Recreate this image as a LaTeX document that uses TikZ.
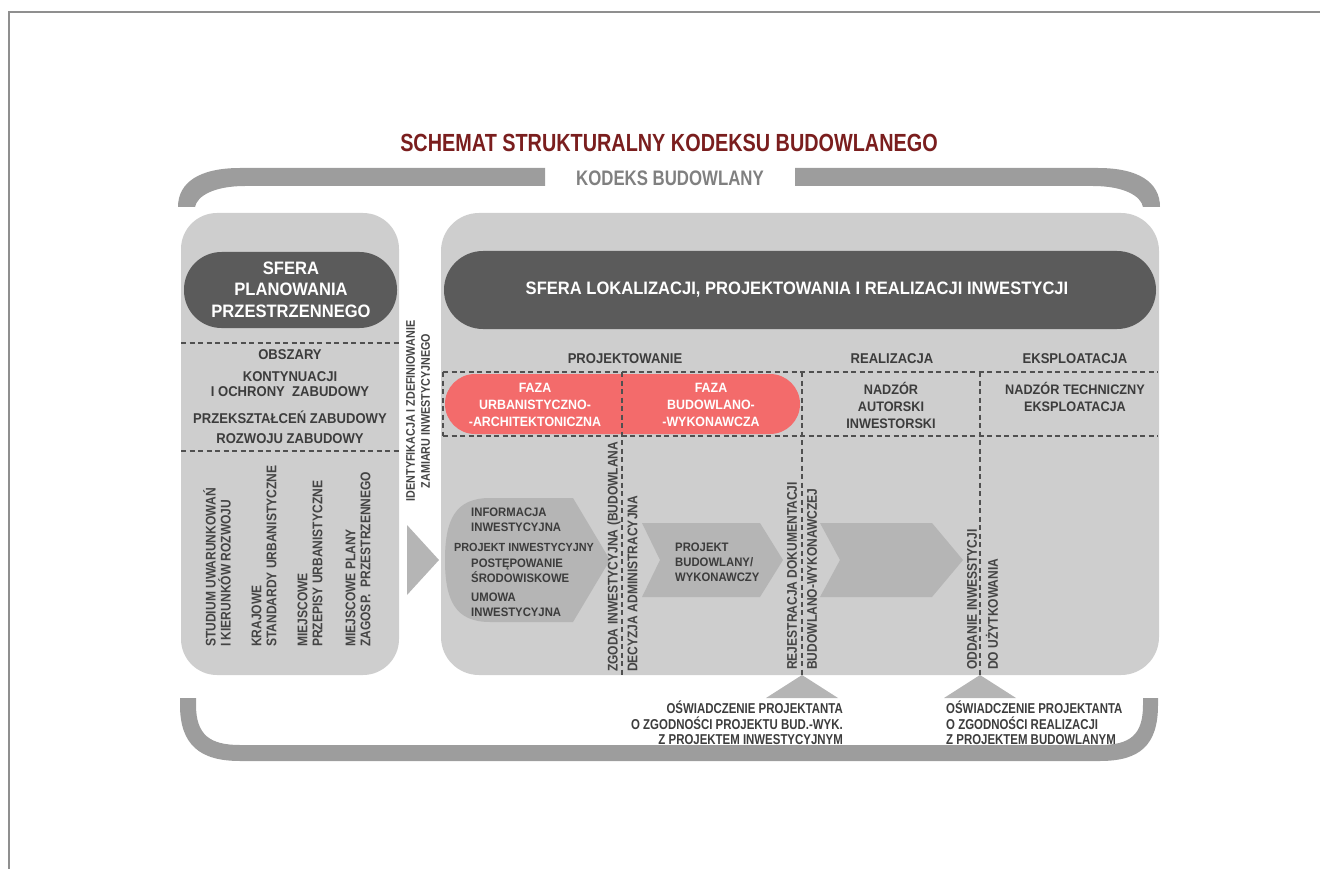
\documentclass[tikz,border=0pt]{standalone}
\usepackage{fontspec}
\setmainfont{Liberation Sans}
\newfontfamily\demi[FakeStretch=0.92]{Liberation Sans}
\newfontfamily\cond[FakeStretch=0.8]{Liberation Sans}
\newfontfamily\narrow[FakeStretch=0.86]{Liberation Sans}
\definecolor{titlered}{HTML}{7A1E1E}
\definecolor{brack}{HTML}{9D9D9D}
\definecolor{kodgray}{HTML}{808080}
\definecolor{panel}{HTML}{CECECE}
\definecolor{pilldark}{HTML}{5B5B5B}
\definecolor{pinkc}{HTML}{F36B6B}
\definecolor{chev}{HTML}{B5B5B5}
\definecolor{txt}{HTML}{3C3C3C}
\definecolor{vtxtc}{HTML}{444444}
\definecolor{dashc}{HTML}{505050}
\definecolor{framec}{HTML}{8F8F8F}
\begin{document}
\begin{tikzpicture}[x=1pt,y=-1pt,
  lbl/.style={font=\demi\bfseries\fontsize{14.2}{15}\selectfont, text=txt, align=center, inner sep=0pt},
  pinklbl/.style={font=\demi\bfseries\fontsize{13.5}{17}\selectfont, text=white, align=center, inner sep=0pt},
  pilltxt/.style={font=\demi\bfseries\fontsize{18}{21.5}\selectfont, text=white, align=center, inner sep=0pt},
  ctxt/.style={font=\demi\bfseries\fontsize{12.3}{15}\selectfont, text=txt, align=left, anchor=west, inner sep=0pt},
  vtxt/.style={font=\narrow\bfseries\fontsize{14}{15}\selectfont, text=vtxtc, rotate=90, anchor=west, align=left, inner sep=0pt},
  stmt/.style={font=\cond\bfseries\fontsize{14.3}{15.5}\selectfont, text=txt, inner sep=0pt},
  dsh/.style={draw=dashc, line width=1.2pt, dash pattern=on 5pt off 3.5pt},
  chevron/.style={fill=chev}]
\useasboundingbox (0,0) rectangle (1320,869);

% sheet frame
\draw[framec, line width=1.3pt] (9,869) -- (9,12) -- (1320,12);

% title
\node[font=\cond\bfseries\fontsize{24.8}{26}\selectfont, text=titlered, inner sep=0pt] (title) at (669,143) {SCHEMAT STRUKTURALNY KODEKSU BUDOWLANEGO};

% upper bracket: Kodeks budowlany
\fill[brack] (178,207) .. controls (178,182) and (200,168) .. (240,168) -- (545,168) -- (545,186) -- (245,186) .. controls (214,186) and (197,196) .. (195,207) -- cycle;
\fill[brack] (1160,207) .. controls (1160,182) and (1138,168) .. (1098,168) -- (795,168) -- (795,186) -- (1093,186) .. controls (1124,186) and (1141,196) .. (1143,207) -- cycle;
\node[font=\cond\bfseries\fontsize{21}{22}\selectfont, text=kodgray, inner sep=0pt] (kodeks) at (670,178) {KODEKS BUDOWLANY};

% lower bracket
\fill[brack] (180,698) -- (180,705) .. controls (180,745) and (200,761) .. (240,761) -- (1100,761) .. controls (1140,761) and (1158,745) .. (1158,705) -- (1158,698) -- (1143,698) -- (1143,705) .. controls (1143,735) and (1130,745) .. (1100,745) -- (240,745) .. controls (210,745) and (196,735) .. (196,705) -- (196,698) -- cycle;

% panels
\fill[panel, rounded corners=36pt] (181,213) rectangle (399,675);
\fill[panel, rounded corners=38pt] (441,213) rectangle (1159,675);

% dark headers
\fill[pilldark, rounded corners=37.5pt] (184,252) rectangle (397,328);
\fill[pilldark, rounded corners=39pt] (444,251) rectangle (1156,329);
\node[pilltxt] (sfp) at (291,289.5) {SFERA\\PLANOWANIA\\PRZESTRZENNEGO};
\node[pilltxt] (sfl) at (797,290) {SFERA LOKALIZACJI, PROJEKTOWANIA I REALIZACJI INWESTYCJI};

% left panel: areas
\draw[dsh] (181,343) -- (399,343);
\draw[dsh] (181,451) -- (399,451);
\node[lbl] (obs) at (290,355) {OBSZARY};
\node[lbl] (kont) at (290,384.5) {KONTYNUACJI\\I OCHRONY~~ZABUDOWY};
\node[lbl] (przek) at (290,417) {PRZEKSZTAŁCEŃ ZABUDOWY};
\node[lbl] (rozw) at (290,439) {ROZWOJU ZABUDOWY};

% left panel: planning documents
\node[vtxt] (stud) at (217,647) {STUDIUM UWARUNKOWAŃ\\I KIERUNKÓW ROZWOJU};
\node[vtxt] (kraj) at (264,647) {KRAJOWE\\STANDARDY URBANISTYCZNE};
\node[vtxt] (miejp) at (310,647) {MIEJSCOWE\\PRZEPISY URBANISTYCZNE};
\node[vtxt] (miejpl) at (358,647) {MIEJSCOWE PLANY\\ZAGOSP.~~PRZESTRZENNEGO};

% link between the spheres
\node[vtxt, anchor=center, align=center, font=\narrow\bfseries\fontsize{12.5}{15}\selectfont] (ident) at (418,411) {IDENTYFIKACJA I ZDEFINIOWANIE\\ZAMIARU INWESTYCYJNEGO};
\fill[chev] (407,525) -- (439,560) -- (407,595) -- cycle;

% stage headings
\node[lbl] (hproj) at (625,359) {PROJEKTOWANIE};
\node[lbl] (hreal) at (892,359) {REALIZACJA};
\node[lbl] (hekspl) at (1075,359) {EKSPLOATACJA};

% phases
\fill[pinkc, rounded corners=30pt] (445,374) rectangle (800,434);
\node[pinklbl] (fua) at (535,405) {FAZA\\URBANISTYCZNO-\\-ARCHITEKTONICZNA};
\node[pinklbl] (fbw) at (711,405) {FAZA\\BUDOWLANO-\\-WYKONAWCZA};
\node[lbl, font=\demi\bfseries\fontsize{13.8}{17}\selectfont] (nadz) at (891,405) {NADZÓR\\AUTORSKI\\INWESTORSKI};
\node[lbl, font=\demi\bfseries\fontsize{13.8}{17}\selectfont] (ntech) at (1075,397) {NADZÓR TECHNICZNY\\EKSPLOATACJA};

% dashed grid
\draw[dsh] (443,372) -- (1158,372);
\draw[dsh] (443,436) -- (1158,436);
\draw[dsh] (443,372) -- (443,436);
\draw[dsh] (622,372) -- (622,675);
\draw[dsh] (802,372) -- (802,675);
\draw[dsh] (980,372) -- (980,675);

% process chevrons
\fill[chevron] (573,498) -- (610,560) -- (573,622) -- (490,622) .. controls (455,622) and (445,600) .. (445,560) .. controls (445,520) and (455,498) .. (490,498) -- cycle;
\fill[chevron] (642,523) -- (760,523) -- (783,560) -- (760,597) -- (642,597) -- (660,560) -- cycle;
\fill[chevron] (820,523) -- (932,523) -- (963,560) -- (932,597) -- (820,597) -- (840,560) -- cycle;
\node[ctxt] (info) at (471,519.5) {INFORMACJA\\INWESTYCYJNA};
\node[ctxt, anchor=center, font=\demi\bfseries\fontsize{11.8}{15}\selectfont] (pinw) at (524,547) {PROJEKT INWESTYCYJNY};
\node[ctxt] (post) at (471,570.5) {POSTĘPOWANIE\\ŚRODOWISKOWE};
\node[ctxt] (umowa) at (471,604.5) {UMOWA\\INWESTYCYJNA};
\node[ctxt, font=\demi\bfseries\fontsize{12.3}{15}\selectfont] (pbw) at (675,562) {PROJEKT\\BUDOWLANY/\\WYKONAWCZY};

% milestones
\node[vtxt] (zgoda) at (614,672) {ZGODA INWESTYCYJNA (BUDOWLANA};
\node[vtxt] (decyz) at (632.5,672) {DECYZJA ADMINISTRACYJNA};
\node[vtxt] (rejes) at (792,670) {REJESTRACJA DOKUMENTACJI};
\node[vtxt] (budwyk) at (812,670) {BUDOWLANO-WYKONAWCZEJ};
\node[vtxt] (oddan) at (972,670) {ODDANIE INWESSTYCJI};
\node[vtxt] (douz) at (992,670) {DO UŻYTKOWANIA};

% designer statements
\fill[chev] (802,675) -- (838,698) -- (766,698) -- cycle;
\fill[chev] (980,675) -- (1016,698) -- (944,698) -- cycle;
\node[stmt, anchor=north east, align=right] (osw1) at (843,701) {OŚWIADCZENIE PROJEKTANTA\\O ZGODNOŚCI PROJEKTU BUD.-WYK.\\Z PROJEKTEM INWESTYCYJNYM};
\node[stmt, anchor=north west, align=left] (osw2) at (946,701) {OŚWIADCZENIE PROJEKTANTA\\O ZGODNOŚCI REALIZACJI\\Z PROJEKTEM BUDOWLANYM};
\end{tikzpicture}
\end{document}
